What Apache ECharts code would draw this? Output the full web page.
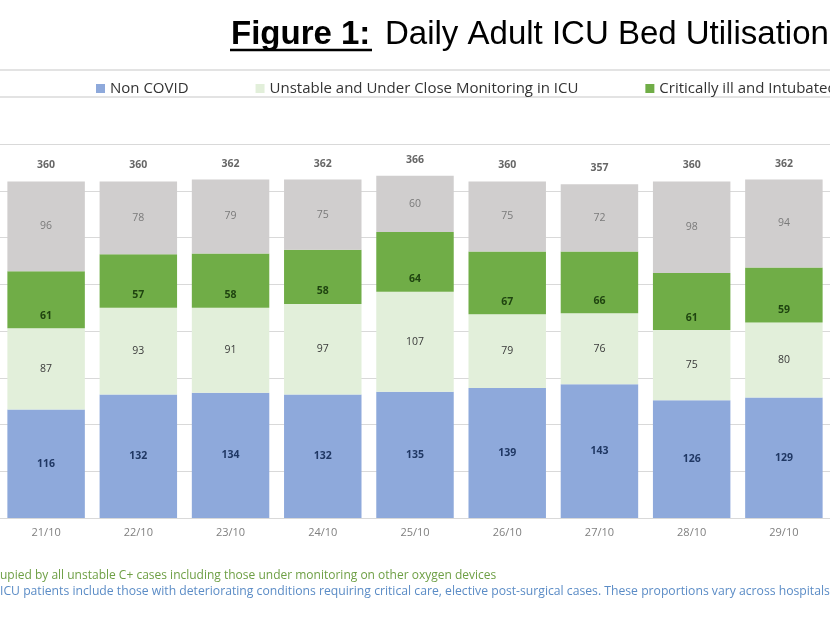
<!DOCTYPE html>
<html><head><meta charset="utf-8">
<script src="https://cdn.jsdelivr.net/npm/echarts@6/dist/echarts.min.js"></script>
<style>html,body{margin:0;padding:0;overflow:hidden;background:#fff}#c{width:830px;height:622px}</style>
</head><body><div id="c"></div>
<script>
const categories = ['21/10','22/10','23/10','24/10','25/10','26/10','27/10','28/10','29/10'];
const nonCovid = [116,132,134,132,135,139,143,126,129];
const unstable = [87,93,91,97,107,79,76,75,80];
const critical = [61,57,58,58,64,67,66,61,59];
const vacant = [96,78,79,75,60,75,72,98,94];
const totals = [360,360,362,362,366,360,357,360,362];
const yMax = 400, yStep = 50;

const seriesNames = ['Non COVID','Unstable and Under Close Monitoring in ICU','Critically ill and Intubated','Vacant'];
const titleBold = 'Figure 1:';
const titleRest = 'Daily Adult ICU Bed Utilisation';
const note1 = 'upied by all unstable C+ cases including those under monitoring on other oxygen devices';
const note2 = 'ICU patients include those with deteriorating conditions requiring critical care, elective post-surgical cases. These proportions vary across hospitals';

const FF = '"Open Sans", sans-serif';
const AR = '"Liberation Sans", Arial, sans-serif';
const chart = echarts.init(document.getElementById('c'), null, {renderer:'canvas'});

function barSeries(name, data, color, labelColor, bold, pos, dist) {
  return {
    name, type:'bar', stack:'all', data, barCategoryGap:'16%',
    itemStyle:{color}, emphasis:{disabled:true},
    label:{show:true, position:pos, distance:dist, color:labelColor, fontFamily:FF,
      fontSize:10.5, fontWeight:bold?'bold':'normal'}
  };
}

chart.setOption({
  animation:false,
  graphic:[
    {type:'line', shape:{x1:0,y1:70,x2:830,y2:70}, style:{stroke:'#E3E3E3', lineWidth:2}},
    {type:'line', shape:{x1:0,y1:97,x2:830,y2:97}, style:{stroke:'#E3E3E3', lineWidth:2}},
    {type:'text', x:231, y:18, style:{text:titleBold, font:'bold 33px '+AR, fill:'#000'}},
    {type:'line', shape:{x1:230,y1:50,x2:372,y2:50}, style:{stroke:'#000', lineWidth:2.5}},
    {type:'text', x:385, y:18, style:{text:titleRest, font:'33px '+AR, fill:'#000'}},
    {type:'text', left:0, top:570, style:{text:note1, font:'12px '+FF, fill:'#6E9F45'}},
    {type:'text', left:0, top:586, style:{text:note2, font:'12.2px '+FF, fill:'#5B8CC6'}}
  ],
  legend:{
    data:seriesNames.slice(0,3), left:91, top:76, width:1500, icon:'rect', itemWidth:9, itemHeight:9, itemGap:67,
    textStyle:{fontFamily:FF, fontSize:15, color:'#333'}, selectedMode:false
  },
  grid:{left:-4, right:-14, top:144, bottom:104, containLabel:false},
  xAxis:{type:'category', data:categories,
    axisLine:{lineStyle:{color:'#D9D9D9'}}, axisTick:{show:false},
    axisLabel:{color:'#7F7F7F', fontFamily:FF, fontSize:11, margin:9}},
  yAxis:{type:'value', min:0, max:yMax, interval:yStep,
    axisLabel:{show:false}, axisLine:{show:false}, axisTick:{show:false},
    splitLine:{lineStyle:{color:'#D9D9D9', width:1}}},
  series:[
    barSeries(seriesNames[0], nonCovid, '#8EA9DB', '#203864', true, 'inside', 5),
    barSeries(seriesNames[1], unstable, '#E2EFDA', '#3A3A3A', false, 'inside', 5),
    barSeries(seriesNames[2], critical, '#70AD47', '#1F4410', true, 'insideBottom', 7),
    barSeries(seriesNames[3], vacant, '#D0CECE', '#7A7A7A', false, 'inside', 5),
    {name:'Total', type:'scatter', data:totals, symbolSize:1, itemStyle:{color:'rgba(0,0,0,0)'},
      emphasis:{disabled:true}, silent:true,
      label:{show:true, position:'top', distance:10, color:'#404040', fontFamily:FF, fontSize:10.5, fontWeight:'bold'}}
  ]
});
</script></body></html>
